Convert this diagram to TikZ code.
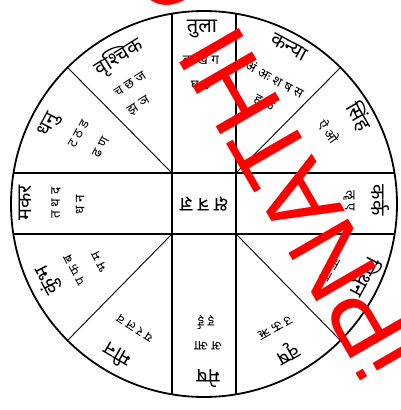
\documentclass[tikz,border=0pt]{standalone}
\usepackage{fontspec}
\newfontfamily\deva[Script=Devanagari]{Noto Sans}
\newfontfamily\wm{Liberation Sans}
\begin{document}
\begin{tikzpicture}[x=1pt,y=-1pt,
  rim/.style={line width=1.8pt},
  gridline/.style={line width=1.6pt},
  diag/.style={line width=0.9pt},
  rname/.style={font=\deva\fontsize{20}{20}\selectfont, inner sep=0pt},
  rlet/.style={font=\deva\fontsize{13.5}{13.5}\selectfont, inner sep=0pt},
  wmark/.style={text=red, font=\wm\fontsize{100}{100}\selectfont, inner sep=0pt, rotate=120}]
\useasboundingbox (0,0) rectangle (401,410);
\fill[white] (0,0) rectangle (401,410);
% geometry
\coordinate (C) at (204,204);
\coordinate (vt1) at (172,13.7); \coordinate (vb1) at (172,394.3);
\coordinate (vt2) at (236,13.7); \coordinate (vb2) at (236,394.3);
\coordinate (hl1) at (13.5,173); \coordinate (hr1) at (394.5,173);
\coordinate (hl2) at (13.3,234); \coordinate (hr2) at (394.7,234);
\coordinate (q1) at (172,173); \coordinate (q2) at (236,173);
\coordinate (q3) at (172,234); \coordinate (q4) at (236,234);
\coordinate (d1) at (67.5,67.5); \coordinate (d2) at (340.5,67.5);
\coordinate (d3) at (67.5,340.5); \coordinate (d4) at (340.5,340.5);
\draw[rim] (C) circle[radius=193];
\draw[gridline] (vt1) -- (vb1);
\draw[gridline] (vt2) -- (vb2);
\draw[gridline] (hl1) -- (hr1);
\draw[gridline] (hl2) -- (hr2);
\draw[diag] (q1) -- (d1);
\draw[diag] (q2) -- (d2);
\draw[diag] (q3) -- (d3);
\draw[diag] (q4) -- (d4);
% tula (top)
\node[rname] (tula) at (202,29) {तुला};
\node[rlet] (tula1) at (201,60) {क ख ग};
\node[rlet] (tula2) at (201,85) {घ ङ};
% kanya
\node[rname, rotate=-28] (kanya) at (289,47) {कन्या};
\node[rlet, rotate=-28] (kanya1) at (275,79) {अं अः श ष स};
\node[rlet, rotate=-28] (kanya2) at (264,104) {ह ळ};
% simha
\node[rname, rotate=-60] (simha) at (359,116) {सिंह};
\node[rlet, rotate=-55] (simha1) at (329,132) {ऐ ओ};
% karka
\node[rname, rotate=-90] (karka) at (380,200) {कर्क};
\node[rlet, rotate=-90] (karka1) at (349,201) {ॡ ए};
% mithuna
\node[rname, rotate=-118] (mithuna) at (364,277) {मिथुन};
\node[rlet, rotate=-120] (mithuna1) at (330,269) {ॠ ऌ};
% vrisha
\node[rname, rotate=-150] (vrisha) at (287,353) {वृष};
\node[rlet, rotate=-150] (vrisha1) at (275,328) {उ ऊ ऋ};
% mesha (bottom)
\node[rname, rotate=180] (mesha) at (208,378) {मेष};
\node[rlet, rotate=180] (mesha1) at (208,346) {अ आ};
\node[rlet, rotate=180] (mesha2) at (206,322) {इ ई};
% meena
\node[rname, rotate=150] (meena) at (117,356) {मीन};
\node[rlet, rotate=148] (meena1) at (135,328) {य र ल व};
% kumbha
\node[rname, rotate=118] (kumbha) at (48,280) {कुंभ};
\node[rlet, rotate=118] (kumbha1) at (75,270) {प फ ब};
\node[rlet, rotate=118] (kumbha2) at (100,262) {भ म};
% makara
\node[rname, rotate=90] (makara) at (25,203) {मकर};
\node[rlet, rotate=90] (makara1) at (56,203) {त थ द};
\node[rlet, rotate=90] (makara2) at (80,205) {ध न};
% dhanu
\node[rname, rotate=62] (dhanu) at (50,125) {धनु};
\node[rlet, rotate=62] (dhanu1) at (79,134) {ट ठ ड};
\node[rlet, rotate=62] (dhanu2) at (101,147) {ढ ण};
% vrishchika
\node[rname, rotate=32] (vrishchika) at (119,57) {वृश्चिक};
\node[rlet, rotate=33] (vrishchika1) at (130,84) {च छ ज};
\node[rlet, rotate=33] (vrishchika2) at (139,106) {झ ञ};
% centre
\node[rname, rotate=180] (centre) at (204,204) {क्ष त्र ज्ञ};
% watermark, letter by letter along its line
\node[wmark] (wmC) at (172,-28) {C\vphantom{H}};
\node[wmark] (wmI) at (212,50) {I\vphantom{H}};
\node[wmark] (wmH) at (237,93) {H};
\node[wmark] (wmT) at (270,151) {T\vphantom{H}};
\node[wmark] (wmA) at (299,200) {A\vphantom{H}};
\node[wmark] (wmN) at (333,260) {N\vphantom{H}};
\node[wmark] (wmP) at (368,320) {P\vphantom{H}};
\node[wmark] (wmi) at (390,359) {i\vphantom{H}};
\end{tikzpicture}
\end{document}
